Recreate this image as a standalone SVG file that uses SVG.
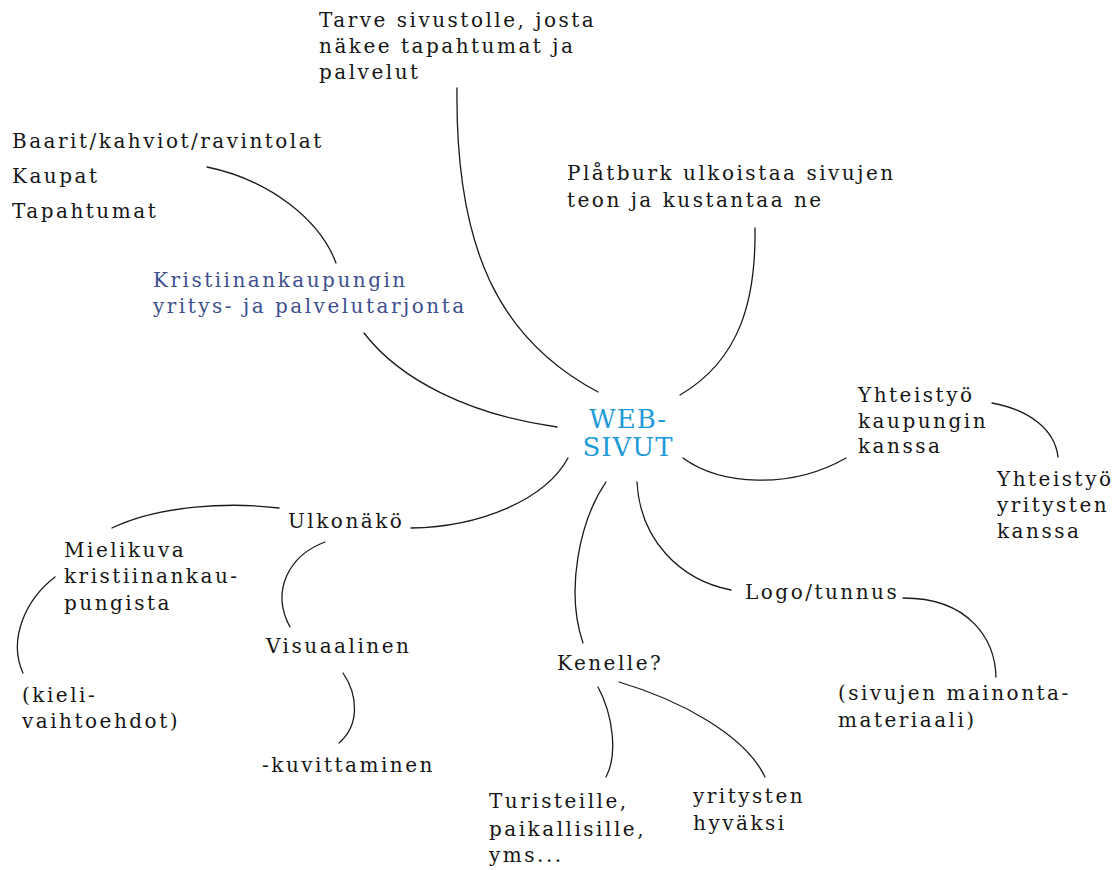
<svg xmlns="http://www.w3.org/2000/svg" width="1120" height="870" viewBox="0 0 1120 870">
<style>
  .t { font-family: "DejaVu Serif", "Liberation Serif", serif; font-size: 20px; letter-spacing: 2.5px; fill: #151515; }
  .sub { fill: #3d4f8f; }
  .hub { font-family: "DejaVu Serif", "Liberation Serif", serif; font-size: 26px; letter-spacing: 1px; fill: #1e9ad8; }
  .c { fill: none; stroke: #1a1a1a; stroke-width: 1.3; stroke-linecap: round; }
</style>
<rect width="1120" height="870" fill="#ffffff"/>
<g id="connectors">
  <path class="c" d="M457,88 C455,250 500,340 598,392"/>
  <path class="c" d="M755,228 C756,300 740,360 680,395"/>
  <path class="c" d="M207,167 C270,180 320,220 336,263"/>
  <path class="c" d="M364,333 C400,380 470,415 557,427"/>
  <path class="c" d="M683,458 C720,485 790,490 846,458"/>
  <path class="c" d="M992,403 C1030,410 1055,430 1058,457"/>
  <path class="c" d="M411,528 C480,527 545,500 568,458"/>
  <path class="c" d="M279,508 C230,502 160,505 112,528"/>
  <path class="c" d="M325,542 C290,555 270,590 290,627"/>
  <path class="c" d="M55,577 C25,600 8,640 23,673"/>
  <path class="c" d="M343,673 C358,695 360,725 339,743"/>
  <path class="c" d="M606,482 C580,520 565,590 583,643"/>
  <path class="c" d="M637,482 C640,540 680,580 731,590"/>
  <path class="c" d="M903,598 C970,598 995,640 996,677"/>
  <path class="c" d="M598,687 C613,715 618,755 606,777"/>
  <path class="c" d="M619,682 C680,700 745,735 765,777"/>
</g>
<g id="hub">
  <text class="hub" x="628" y="428" text-anchor="middle">WEB-</text>
  <text class="hub" x="628" y="456" text-anchor="middle">SIVUT</text>
</g>
<g id="tarve">
  <text class="t" x="319" y="27">Tarve sivustolle, josta</text>
  <text class="t" x="319" y="53">näkee tapahtumat ja</text>
  <text class="t" x="319" y="79">palvelut</text>
</g>
<g id="platburk">
  <text class="t" x="567" y="180">Plåtburk ulkoistaa sivujen</text>
  <text class="t" x="567" y="207">teon ja kustantaa ne</text>
</g>
<g id="baarit">
  <text class="t" x="12" y="148">Baarit/kahviot/ravintolat</text>
  <text class="t" x="12" y="183">Kaupat</text>
  <text class="t" x="12" y="218">Tapahtumat</text>
</g>
<g id="kristiinankaupungin">
  <text class="t sub" x="153" y="287">Kristiinankaupungin</text>
  <text class="t sub" x="153" y="313">yritys- ja palvelutarjonta</text>
</g>
<g id="yhteistyo-kaupunki">
  <text class="t" x="858" y="402">Yhteistyö</text>
  <text class="t" x="858" y="428">kaupungin</text>
  <text class="t" x="858" y="453">kanssa</text>
</g>
<g id="yhteistyo-yritykset">
  <text class="t" x="997" y="486">Yhteistyö</text>
  <text class="t" x="997" y="512">yritysten</text>
  <text class="t" x="997" y="538">kanssa</text>
</g>
<g id="ulkonako">
  <text class="t" x="288" y="528">Ulkonäkö</text>
</g>
<g id="mielikuva">
  <text class="t" x="64" y="557">Mielikuva</text>
  <text class="t" x="64" y="583">kristiinankau-</text>
  <text class="t" x="64" y="610">pungista</text>
</g>
<g id="kieli">
  <text class="t" x="22" y="702">(kieli-</text>
  <text class="t" x="22" y="728">vaihtoehdot)</text>
</g>
<g id="visuaalinen">
  <text class="t" x="266" y="653">Visuaalinen</text>
</g>
<g id="kuvittaminen">
  <text class="t" x="262" y="772">-kuvittaminen</text>
</g>
<g id="logo">
  <text class="t" x="745" y="599">Logo/tunnus</text>
</g>
<g id="mainonta">
  <text class="t" x="838" y="700">(sivujen mainonta-</text>
  <text class="t" x="838" y="727">materiaali)</text>
</g>
<g id="kenelle">
  <text class="t" x="557" y="670">Kenelle?</text>
</g>
<g id="turisteille">
  <text class="t" x="489" y="808">Turisteille,</text>
  <text class="t" x="489" y="836">paikallisille,</text>
  <text class="t" x="489" y="862">yms...</text>
</g>
<g id="yritysten-hyvaksi">
  <text class="t" x="693" y="803">yritysten</text>
  <text class="t" x="693" y="830">hyväksi</text>
</g>
</svg>
